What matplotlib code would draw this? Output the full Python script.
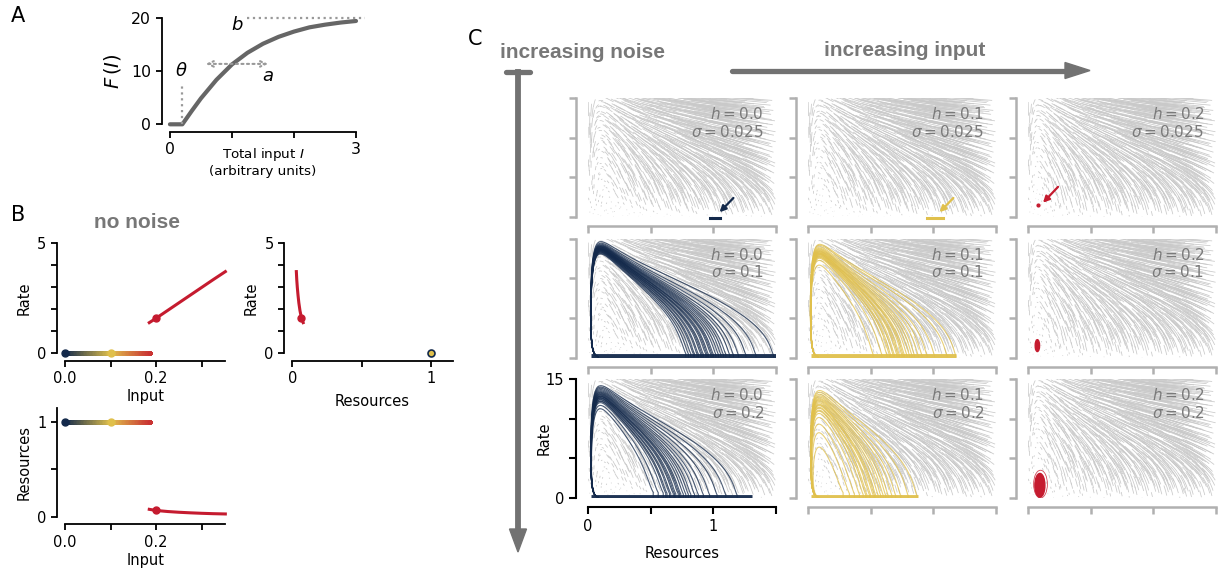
import numpy as np
import matplotlib
matplotlib.use("Agg")
import matplotlib.pyplot as plt
from matplotlib.collections import LineCollection
from matplotlib.colors import LinearSegmentedColormap
from matplotlib.patches import Ellipse, Polygon

# ---------------- data ----------------
# Panel A: gain function F(I)
gain_input = [0.0, 0.2, 0.35, 0.5, 0.75, 1.0, 1.25, 1.5, 1.75, 2.0, 2.25, 2.5, 2.75, 3.0]
gain_output = [0.0, 0.0, 2.5, 4.9, 8.4, 11.3, 13.5, 15.2, 16.5, 17.5, 18.3, 18.8, 19.2, 19.5]

# Panel B: steady states vs input
low_branch_input = [0.0, 0.188]
low_branch_rate = [0.0, 0.0]
low_branch_resources = [1.0, 1.0]
high_branch_input = [0.185, 0.2, 0.225, 0.25, 0.275, 0.3, 0.325, 0.352]
high_branch_rate = [1.38, 1.58, 1.93, 2.28, 2.63, 2.98, 3.33, 3.7]
high_branch_resources = [0.078, 0.066, 0.055, 0.047, 0.041, 0.036, 0.032, 0.029]
marked_inputs = [0.0, 0.1, 0.2]
marked_rates = [0.0, 0.0, 1.58]
marked_resources = [1.0, 1.0, 0.066]

# Panel C: input levels (columns) and noise levels (rows)
inputs_h = [0.0, 0.1, 0.2]
noise_sigma = [0.025, 0.1, 0.2]
# resource levels at which noise-triggered bursts start (read from the bottom of each bundle)
release = {
    (0.0, 0.1): [0.78, 0.8, 0.82, 0.84, 0.85, 0.87, 0.88, 0.9, 0.91, 0.92, 0.94, 0.95, 0.96,
                 0.98, 0.99, 1.0, 1.02, 1.04, 1.06, 1.08, 1.1, 1.13, 1.16, 1.2, 1.26, 1.34, 1.48],
    (0.0, 0.2): [0.52, 0.56, 0.6, 0.62, 0.63, 0.65, 0.66, 0.68, 0.69, 0.7, 0.72, 0.73, 0.74,
                 0.76, 0.78, 0.8, 0.82, 0.85, 0.88, 0.92, 0.97, 1.03, 1.1, 1.19],
    (0.1, 0.1): [0.52, 0.59, 0.63, 0.65, 0.66, 0.68, 0.69, 0.71, 0.72, 0.73, 0.75, 0.76, 0.77,
                 0.79, 0.81, 0.83, 0.85, 0.88, 0.91, 0.95, 1.01, 1.11, 1.18],
    (0.1, 0.2): [0.28, 0.33, 0.37, 0.41, 0.44, 0.46, 0.47, 0.49, 0.5, 0.52, 0.53, 0.54, 0.56,
                 0.58, 0.6, 0.62, 0.64, 0.67, 0.7, 0.74, 0.8, 0.87],
}
# extent of the low-rate recovery band (resources)
band_extent = {(0.0, 0.1): (0.02, 1.5), (0.0, 0.2): (0.02, 1.31),
               (0.1, 0.1): (0.02, 1.18), (0.1, 0.2): (0.02, 0.88)}
# weak-noise fluctuation around the quiet state (resources span at rate 0)
quiet_span = {0.0: (0.97, 1.05), 0.1: (0.95, 1.08)}
# fluctuation clouds around the active fixed point for h = 0.2: (resources, rate, width, height)
active_cloud = {0.025: (0.08, 1.5, 0.0, 0.0), 0.1: (0.075, 1.5, 0.035, 1.5), 0.2: (0.095, 1.6, 0.08, 3.0)}
active_ring = (0.1, 1.75, 0.11, 3.5)

# model constants
THETA, GAIN_A, GAIN_B = 0.2, 1.25, 20.0
J_REC, U_DEP, TAU_X, TAU_R = 0.9, 0.2, 41.5, 1.0

NAVY = "#13294b"
YELLOW = "#e0c04c"
RED = "#c51b2f"
STREAM = "#c9c9c9"
SPINE_GRAY = "#b0b0b0"
TEXT_GRAY = "#7a7a7a"
ARROW_GRAY = "#727272"


def field(x, r, h):
    inp = J_REC * x * r + h
    gain = GAIN_B * np.tanh(np.clip(inp - THETA, 0, None) / GAIN_A)
    dr = (-r + gain) / TAU_R
    dx = (1 - x) / TAU_X - U_DEP * x * r
    return dx, dr


def bursts(x_rel, h, dt=0.002, nsteps=7500):
    x = np.array(x_rel, float)
    r = (THETA - h) / (J_REC * x) * 1.6 + 0.05
    xs = np.empty((nsteps + 1, x.size)); rs = np.empty_like(xs)
    xs[0], rs[0] = x, r
    for k in range(nsteps):
        dx, dr = field(x, r, h)
        x = x + dt * dx
        r = r + dt * dr
        xs[k + 1], rs[k + 1] = x, r
    paths = []
    for j in range(x.size):
        ip = np.argmax(rs[:, j])
        after = np.where(rs[ip:, j] < 0.08)[0]
        end = ip + (after[0] if after.size else len(rs) - ip - 1)
        px = np.concatenate([[x_rel[j]], xs[:end + 1, j]])
        py = np.concatenate([[0.0], rs[:end + 1, j]])
        paths.append(np.column_stack([px, py]))
    return paths


def halton(n, base):
    out = np.zeros(n)
    for i in range(n):
        f, k, v = 1.0, i + 1, 0.0
        while k > 0:
            f /= base
            v += f * (k % base)
            k //= base
        out[i] = v
    return out


N_SEEDS = 900
seed_x = halton(N_SEEDS, 2) * 1.5
seed_r = halton(N_SEEDS, 3) * 15.0


def flow_segments(h, T=0.13, nstep=26):
    x, r = seed_x.copy(), seed_r.copy()
    dt = T / nstep
    xs, rs = [x], [r]
    for _ in range(nstep):
        dx, dr = field(x, r, h)
        x = x + dt * dx
        r = r + dt * dr
        xs.append(x); rs.append(r)
    return np.stack([np.array(xs).T, np.array(rs).T], axis=-1)


plt.rcParams['font.family'] = ['DejaVu Sans']
plt.rcParams['mathtext.fontset'] = 'dejavusans'

fig = plt.figure(figsize=(12.2, 5.71), dpi=100)

# overlay for decorations (pixel coordinates)
ov = fig.add_axes([0, 0, 1, 1], zorder=-5)
ov.set_xlim(0, 1220); ov.set_ylim(571, 0); ov.axis('off')


def style(ax, color='black', left_off=6, bottom_off=5.5, lw=1.3):
    for s in ['top', 'right']:
        ax.spines[s].set_visible(False)
    ax.spines['left'].set_position(('outward', left_off))
    ax.spines['bottom'].set_position(('outward', bottom_off))
    for s in ['left', 'bottom']:
        ax.spines[s].set_color(color)
        ax.spines[s].set_linewidth(lw)
    ax.tick_params(colors=color, width=lw, length=4, labelsize=10.5, labelcolor='black')
    ax.patch.set_visible(False)


# ---------------- Panel A ----------------
axA = fig.add_axes([0.1393, 0.7823, 0.1525, 0.1856])
axA.plot(gain_input, gain_output, color='#666666', lw=3, solid_capstyle='round', clip_on=False)
axA.set_xlim(0, 3); axA.set_ylim(0, 20)
style(axA, left_off=6, bottom_off=5.3)
axA.tick_params(labelsize=11.3)
axA.set_xticks([0, 1, 2, 3]); axA.set_xticklabels(['0', '', '', '3'])
axA.set_yticks([0, 10, 20])
axA.set_ylabel(r'$F\,(I)$', fontsize=14, labelpad=6)
axA.text(0.5, -0.2, 'Total input $I$\n(arbitrary units)', transform=axA.transAxes,
         ha='center', va='top', fontsize=9.7, linespacing=1.25)
axA.plot([0.19, 0.19], [0, 7.4], ls=':', color='#999999', lw=1.6, clip_on=False)
axA.text(0.19, 10, r'$\theta$', ha='center', va='center', fontsize=13)
axA.annotate('', xy=(0.58, 11.4), xytext=(1.58, 11.4),
             arrowprops=dict(arrowstyle='<->', ls=':', color='#999999', lw=1.5, shrinkA=0, shrinkB=0))
axA.text(1.58, 9.2, r'$a$', ha='center', va='center', fontsize=13)
axA.plot([1.24, 3.15], [20, 20], ls=':', color='#999999', lw=1.6, clip_on=False)
axA.text(1.08, 18.8, r'$b$', ha='center', va='center', fontsize=13)

# ---------------- Panel B ----------------
cmap = LinearSegmentedColormap.from_list('hcol', [NAVY, YELLOW, RED])


def gradient_line(ax, xs, ys):
    t = np.linspace(xs[0], xs[1], 60)
    yy = np.linspace(ys[0], ys[1], 60)
    pts = np.column_stack([t, yy]).reshape(-1, 1, 2)
    segs = np.concatenate([pts[:-1], pts[1:]], axis=1)
    lc = LineCollection(segs, cmap=cmap, norm=plt.Normalize(0, 0.2), lw=2.2, clip_on=False,
                        capstyle='round', antialiased=False)
    lc.set_array(t[:-1])
    ax.add_collection(lc)


mcolors = [NAVY, YELLOW, RED]
axB1 = fig.add_axes([0.0533, 0.3818, 0.1314, 0.1926])
gradient_line(axB1, low_branch_input, low_branch_rate)
axB1.plot(high_branch_input, high_branch_rate, color=RED, lw=2.2, clip_on=False)
for hx, ry, c in zip(marked_inputs, marked_rates, mcolors):
    axB1.plot(hx, ry, 'o', color=c, ms=5, clip_on=False, zorder=5)
axB1.set_xlim(0, 0.352); axB1.set_ylim(0, 5)
style(axB1, left_off=5.8, bottom_off=5.5)
axB1.set_xticks([0, 0.1, 0.2, 0.3]); axB1.set_xticklabels(['0.0', '', '0.2', ''])
axB1.set_yticks([0, 1, 2, 3, 4, 5]); axB1.set_yticklabels(['0', '', '', '', '', '5'])
axB1.set_ylabel('Rate', fontsize=10.5)
axB1.set_xlabel('Input', fontsize=10.5, labelpad=2)

axB2 = fig.add_axes([0.2396, 0.3818, 0.1315, 0.1926])
axB2.plot(high_branch_resources, high_branch_rate, color=RED, lw=2.2, clip_on=False)
axB2.plot(marked_resources[2], marked_rates[2], 'o', color=RED, ms=5, clip_on=False)
axB2.plot(marked_resources[0], marked_rates[0], 'o', mfc=YELLOW, mec=NAVY, mew=1.2, ms=5,
          clip_on=False, zorder=5)
axB2.set_xlim(0, 1.154); axB2.set_ylim(0, 5)
style(axB2, left_off=5.8, bottom_off=5.5)
axB2.set_xticks([0, 0.5, 1]); axB2.set_xticklabels(['0', '', '1'])
axB2.set_yticks([0, 1, 2, 3, 4, 5]); axB2.set_yticklabels(['0', '', '', '', '', '5'])
axB2.set_ylabel('Rate', fontsize=10.5)
axB2.set_xlabel('Resources', fontsize=10.5, labelpad=6)

axB3 = fig.add_axes([0.0533, 0.0951, 0.1314, 0.1898])
gradient_line(axB3, low_branch_input, low_branch_resources)
axB3.plot(high_branch_input, high_branch_resources, color=RED, lw=2.2, clip_on=False)
for hx, ry, c in zip(marked_inputs, marked_resources, mcolors):
    axB3.plot(hx, ry, 'o', color=c, ms=5, clip_on=False, zorder=5)
axB3.set_xlim(0, 0.352); axB3.set_ylim(0, 1.148)
style(axB3, left_off=5.8, bottom_off=5.5)
axB3.set_xticks([0, 0.1, 0.2, 0.3]); axB3.set_xticklabels(['0.0', '', '0.2', ''])
axB3.set_yticks([0, 0.5, 1]); axB3.set_yticklabels(['0', '', '1'])
axB3.set_ylabel('Resources', fontsize=10.5)
axB3.set_xlabel('Input', fontsize=10.5, labelpad=2)

# ---------------- Panel C ----------------
c_left = [0.4820, 0.6623, 0.8426]
c_bottom = [0.6200, 0.3739, 0.1278]
c_w, c_h = 0.1541, 0.2084

for i, sig in enumerate(noise_sigma):
    for j, h in enumerate(inputs_h):
        ax = fig.add_axes([c_left[j], c_bottom[i], c_w, c_h])
        segs = flow_segments(h)
        ax.add_collection(LineCollection(segs, colors=STREAM, lw=0.55, zorder=1))
        col = [NAVY, YELLOW, RED][j]
        key = (h, sig)
        if key in release:
            paths = bursts(release[key], h)
            lc = LineCollection(paths, colors=col, lw=0.8, alpha=0.75, zorder=2)
            ax.add_collection(lc)
            b0, b1 = band_extent[key]
            ax.plot([b0, b1], [0.15, 0.15], color=col, lw=3.5, alpha=0.95, zorder=2,
                    solid_capstyle='butt')
        if sig == noise_sigma[0] and h in quiet_span:
            q0, q1 = quiet_span[h]
            ax.plot([q0, q1], [-0.1, -0.1], color=col, lw=2.2, clip_on=False, zorder=3)
            ax.annotate('', xy=(1.05, 0.6), xytext=(1.16, 2.4),
                        arrowprops=dict(arrowstyle='-|>', color=col, lw=1.6, mutation_scale=9,
                                        shrinkA=0, shrinkB=0))
        if h == inputs_h[2]:
            cx, cy, cw, ch = active_cloud[sig]
            if cw == 0:
                ax.plot(cx, cy, 'o', color=RED, ms=2, zorder=3)
                ax.annotate('', xy=(0.12, 1.8), xytext=(0.24, 3.8),
                            arrowprops=dict(arrowstyle='-|>', color=RED, lw=1.6, mutation_scale=9,
                                            shrinkA=0, shrinkB=0))
            else:
                ax.add_patch(Ellipse((cx, cy), cw, ch, color=RED, zorder=3))
                if sig == noise_sigma[2]:
                    rx, ry, rw, rh = active_ring
                    ax.add_patch(Ellipse((rx, ry), rw, rh, fill=False, ec=RED, lw=0.6,
                                         alpha=0.8, zorder=3))
        ax.set_xlim(0, 1.5); ax.set_ylim(0, 15)
        ax.set_xticks([0, 0.5, 1, 1.5]); ax.set_yticks([0, 5, 10, 15])
        ax.text(0.935, 0.93, '$h = %.1f$\n$\\sigma = %s$' % (h, sig), transform=ax.transAxes,
                ha='right', va='top', fontsize=11, color=TEXT_GRAY, linespacing=1.1, zorder=4)
        if i == 2 and j == 0:
            style(ax, color='black', left_off=8.6, bottom_off=6.5, lw=1.5)
            ax.tick_params(length=5)
            ax.set_xticklabels(['0', '', '1', ''])
            ax.set_yticklabels(['0', '', '', '15'])
            ax.set_xlabel('Resources', fontsize=10.5, labelpad=9)
            ax.set_ylabel('Rate', fontsize=10.5, labelpad=-4)
        else:
            style(ax, color=SPINE_GRAY, left_off=8.6, bottom_off=6.5, lw=1.8)
            ax.tick_params(length=5)
            ax.set_xticklabels([]); ax.set_yticklabels([])

# ---------------- decorations ----------------
fig.text(18 / 1220, 1 - 16 / 571, 'A', fontsize=15, ha='center', va='center')
fig.text(18 / 1220, 1 - 215 / 571, 'B', fontsize=15, ha='center', va='center')
fig.text(475 / 1220, 1 - 39 / 571, 'C', fontsize=15, ha='center', va='center')
bold = dict(family='Liberation Sans', weight='bold', fontsize=15, color='#777777',
            ha='center', va='center')
fig.text(137 / 1220, 1 - 223 / 571, 'no noise', **bold)
fig.text(582 / 1220, 1 - 52 / 571, 'increasing noise', **bold)
fig.text(905 / 1220, 1 - 50 / 571, 'increasing input', **bold)

ov.plot([732, 1066], [70.5, 70.5], color=ARROW_GRAY, lw=3.8, solid_capstyle='round')
ov.add_patch(Polygon([(1065, 62.5), (1090, 70.5), (1065, 78.5)], closed=True, color=ARROW_GRAY))
ov.plot([506, 530], [72, 72], color=ARROW_GRAY, lw=3.8, solid_capstyle='round')
ov.plot([518, 518], [72, 531], color=ARROW_GRAY, lw=4.2)
ov.add_patch(Polygon([(509.5, 529), (518, 552), (526.5, 529)], closed=True, color=ARROW_GRAY))

fig.savefig('out.png', dpi=100)
